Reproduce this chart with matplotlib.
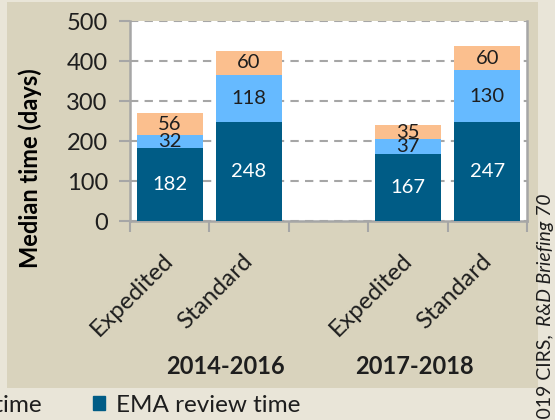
import matplotlib
matplotlib.use("Agg")
import matplotlib.pyplot as plt
from matplotlib.patches import Rectangle, Patch
import matplotlib.transforms as mtransforms

plt.rcParams['font.family'] = ['Lato', 'DejaVu Sans']

# ---- data ----
categories = ["Expedited", "Standard", "Expedited", "Standard"]
positions = [0, 1, 3, 4]
groups = ["2014-2016", "2017-2018"]
group_pos = [0.7, 3.08]
ema_review = [182, 248, 167, 247]
clock_stop = [32, 118, 37, 130]
ec_decision = [56, 60, 35, 60]
series_names = ["EC decision time", "Clock-stop time", "EMA review time"]
yticks = [0, 100, 200, 300, 400, 500]

c_dark = "#005c86"
c_light = "#66baff"
c_peach = "#fbbf8e"
outer_bg = "#e9e5d8"
panel_bg = "#d9d3bd"
grid_c = "#a6a6a6"
txt_c = "#1e1e1e"

W, H = 555, 420
fig = plt.figure(figsize=(W / 100, H / 100), dpi=100, facecolor=outer_bg)
fig.patches.append(Rectangle((7 / W, (H - 388) / H), (538 - 7) / W, (388 - 2) / H,
                             transform=fig.transFigure, facecolor=panel_bg,
                             edgecolor='none', zorder=-5))

ax = fig.add_axes([130 / W, (H - 221) / H, 397 / W, 200 / H])
ax.set_zorder(2)
ax.set_facecolor("white")

bw = 0.83
b1 = ax.bar(positions, ema_review, bw, color=c_dark, zorder=3)
bottom2 = ema_review
b2 = ax.bar(positions, clock_stop, bw, bottom=bottom2, color=c_light, zorder=3)
bottom3 = [a + b for a, b in zip(ema_review, clock_stop)]
b3 = ax.bar(positions, ec_decision, bw, bottom=bottom3, color=c_peach, zorder=3)

for bars, col in ((b1, "white"), (b2, txt_c), (b3, txt_c)):
    ax.bar_label(bars, label_type='center', color=col, fontsize=14.5)

ax.set_xlim(-0.5, 4.5)
ax.set_ylim(0, 500)
ax.set_yticks(yticks)
ax.set_yticklabels([str(t) for t in yticks], fontsize=17, color=txt_c)
ax.yaxis.grid(True, color=grid_c, linestyle=(0, (4, 3)), linewidth=1.5, zorder=1)
ax.tick_params(axis='y', length=8, width=1.5, color=grid_c, pad=8)

ax.set_xticks(positions)
ax.set_xticklabels(categories, rotation=45, ha='right', rotation_mode='anchor',
                   fontsize=17.5, color=txt_c)
ax.tick_params(axis='x', which='major', length=0, pad=21)
ax.set_xticks([-0.5, 0.5, 1.5, 2.5, 3.5, 4.5], minor=True)
ax.tick_params(axis='x', which='minor', length=8, width=1.5, color=grid_c)
shift = mtransforms.ScaledTranslation(-0.07, 0, fig.dpi_scale_trans)
for lab in ax.get_xticklabels():
    lab.set_transform(lab.get_transform() + shift)

for s in ("left", "bottom", "right"):
    ax.spines[s].set_color(grid_c)
    ax.spines[s].set_linewidth(1.8)
ax.spines["top"].set_visible(False)

trans = mtransforms.blended_transform_factory(ax.transData, fig.transFigure)
for g, gx in zip(groups, group_pos):
    ax.text(gx, (H - 366) / H, g, transform=trans, ha='center', va='center',
            fontsize=17, fontweight='bold', color=txt_c)

fig.text(30 / W, (H - 168) / H, "Median time (days)", rotation=90, ha='center',
         va='center', fontsize=17, fontweight='bold', color='black')

handles = [Patch(color=c_peach), Patch(color=c_light), Patch(color=c_dark)]
fig.legend(handles, series_names, ncol=3, frameon=False, loc='center right',
           bbox_to_anchor=(300 / W, 15 / H), borderpad=0, borderaxespad=0,
           fontsize=17.5, handlelength=0.5, handleheight=0.5, handletextpad=0.45,
           columnspacing=2.1, labelcolor=txt_c)

fig.text(545 / W, (H - 193) / H, "R&D Briefing 70", rotation=90, ha='center',
         va='top', fontsize=14, style='italic', color=txt_c)
fig.text(545 / W, (H - 334) / H, "\u00a92019 CIRS,", rotation=90, ha='center',
         va='top', fontsize=14, color=txt_c)

fig.savefig("out.png", dpi=100, facecolor=outer_bg)
